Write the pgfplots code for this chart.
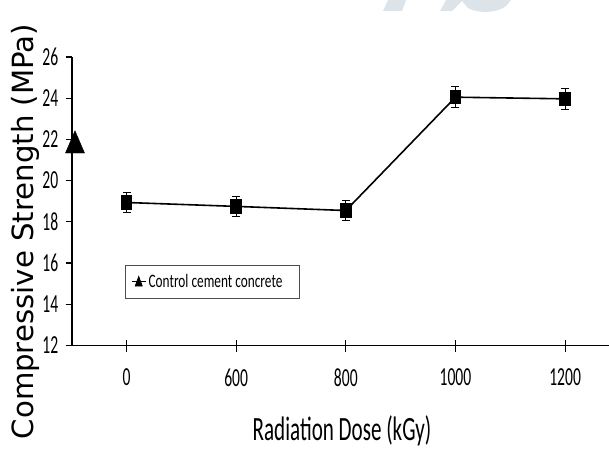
\documentclass[border=0pt]{standalone}
\usepackage{fontspec}
\usepackage{pgfplots}
\pgfplotsset{compat=1.18}
\newfontfamily\tickfont[FakeStretch=0.6]{Carlito}
\newfontfamily\labfont[FakeStretch=0.62]{Carlito}
\newfontfamily\legfont[FakeStretch=0.7]{Carlito}
\newfontfamily\yfont{DejaVu Sans}
\definecolor{wm}{RGB}{221,228,233}
\begin{document}
\begin{tikzpicture}
% faint watermark at the top
\fill[wm] (383pt,437pt) -- (402pt,437pt) -- (406pt,448pt) -- (388pt,448pt) -- cycle;
\fill[wm] (440pt,437pt) -- (452pt,437pt) -- (463pt,448pt) -- (446pt,448pt) -- cycle;
\fill[wm] (461pt,448pt) -- (511pt,448pt) -- (506pt,442pt) .. controls (498pt,435pt) and (478pt,434pt) .. (468pt,440pt) -- cycle;
\begin{axis}[
  at={(71.7pt,102.5pt)}, anchor=south west,
  scale only axis, width=537.3pt, height=288.5pt,
  xmin=-0.5, xmax=4.4, ymin=12, ymax=26,
  axis x line=bottom, axis y line=left,
  axis line style={-, line width=1.6pt, black},
  xtick={0,1,2,3,4}, xticklabels={\tickfont 0,\tickfont 600,\tickfont 800,\tickfont 1000,\tickfont 1200},
  ytick={12,14,16,18,20,22,24,26},
  /pgf/number format/assume math mode=true,
  tick align=outside, major tick length=6pt,
  tick style={black, line width=1.2pt},
  xtick style={/pgfplots/major tick length=12pt, yshift=6pt},
  ticklabel style={font=\tickfont\fontsize{26}{26}\selectfont},
  yticklabel style={xshift=-4pt},
  xticklabel style={yshift=-14pt},
  xlabel={Radiation Dose (kGy)},
  ylabel={Compressive Strength (MPa)},
  xlabel style={font=\labfont\fontsize{34}{34}\selectfont, at={(axis description cs:0.503,-0.330)}, anchor=base},
  ylabel style={font=\yfont\fontsize{29.2}{29.2}\selectfont, at={(axis description cs:-0.072,0.395)}, anchor=base, rotate=0},
  legend style={at={(axis cs:-0.01,14.29)}, anchor=south west, draw=black!70, line width=0.8pt,
    font=\legfont\fontsize{19}{19}\selectfont, inner xsep=6pt, inner ysep=7pt},
  legend cell align=left,
  clip=false,
]
\addplot[forget plot, black, line width=1.6pt, mark=square*, mark size=5pt, mark options={yscale=1.3, solid},
  error bars/.cd, y dir=both, y explicit,
  error bar style={line width=1.2pt, black},
  error mark options={rotate=90, mark size=4pt, line width=1.2pt, black}]
  coordinates {
    (0,18.94) +- (0,0.5)
    (1,18.75) +- (0,0.5)
    (2,18.55) +- (0,0.5)
    (3,24.05) +- (0,0.5)
    (4,23.97) +- (0,0.5)
  };
\addplot[only marks, black, mark=triangle*, mark size=11pt, mark options={yscale=1.35},
  legend image code/.code={\fill[black] (3pt,-4.5pt) -- (10pt,-4.5pt) -- (6.5pt,5pt) -- cycle;
    \path (0pt,0pt) -- (14pt,0pt);}]
  coordinates {(-0.47,21.7)};
\addlegendentry{Control cement concrete\kern9pt\null}
\end{axis}
\pgfresetboundingbox
\useasboundingbox (0,0) rectangle (609pt,448pt);
\end{tikzpicture}
\end{document}
